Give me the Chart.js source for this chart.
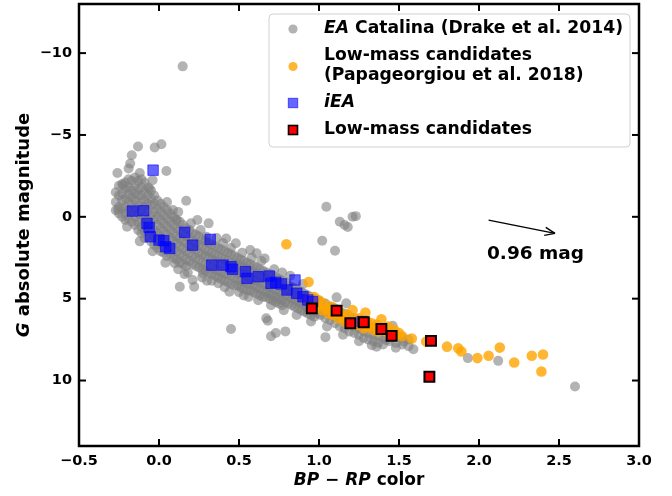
<!DOCTYPE html>
<html><head><meta charset="utf-8">
<script src="https://cdn.jsdelivr.net/npm/chart.js@4"></script>
<style>html,body{margin:0;padding:0;background:#fff}#wrap{width:672px;height:496px;position:relative}</style>
</head><body><div id="wrap"><canvas id="c"></canvas></div>
<script>
const xTicks = [-0.5, 0, 0.5, 1, 1.5, 2, 2.5, 3];
const xTickLabels = ['−0.5', '0.0', '0.5', '1.0', '1.5', '2.0', '2.5', '3.0'];
const yTicks = [-10, -5, 0, 5, 10];
const yTickLabels = ['−10', '−5', '0', '5', '10'];

// EA Catalina: isolated stars [BP-RP, M_G]
const catalinaSparse = [
  [0.148,-9.19],[-0.131,-4.30],[-0.027,-4.23],[0.015,-4.43],[-0.17,-3.76],[-0.18,-3.25],[-0.26,-2.68],[-0.12,-2.68],
  [0.046,-2.80],[-0.19,-2.95],[-0.04,-2.24],[-0.225,-1.93],[-0.06,-1.73],[0.17,-0.98],[-0.256,-0.45],[0.087,-0.41],
  [0.11,0.2],[0.31,0.4],[0.296,1.22],[0.42,1.32],[0.48,1.62],[0.57,2.03],[0.61,2.23],[0.66,2.54],
  [1.046,-0.61],[1.13,0.3],[1.16,0.5],[1.21,0.0],[1.23,-0.04],[1.18,0.62],[1.02,1.46],[1.10,2.07],
  [0.098,2.84],[0.13,4.27],[0.21,3.86],[0.22,4.27],[0.275,3.45],[0.37,4.06],[0.44,4.57],[0.45,6.85],[0.67,6.2],
  [0.68,6.35],[0.70,7.3],[0.73,7.1],[0.79,7.0],[1.04,7.35],[1.36,7.93],[1.59,8.09],[1.93,8.63],[2.12,8.8],[2.60,10.37],
  [1.11,4.92],[1.17,5.28],[1.46,6.66],[1.53,7.62],[1.42,7.52],
  [0.05,-0.9],[0.12,-0.3],[0.2,0.4],[0.24,0.2],[0.26,0.8],[0.36,1.3],[0.40,1.6],[0.45,1.9],[0.52,2.2],[0.58,2.5],
  [0.64,2.7],[0.72,3.2],[0.77,3.4],[0.82,3.6],[0.90,4.1],
  [-0.2,0.6],[-0.12,1.5],[-0.04,2.1],[0.04,2.8],[0.12,3.2],[0.16,3.5],[0.18,3.4],[0.27,3.7],[0.30,3.9],[0.33,3.9],
  [0.41,4.3],[0.50,4.6],[0.53,4.8],[0.56,4.9],[0.62,5.1],[0.70,5.4],[0.78,5.7],[0.86,6.0],[0.95,6.4],[1.05,6.7],
  [1.15,7.2],[1.25,7.6],[1.33,7.85],[1.48,8.0]
];
// EA Catalina: dense main-sequence band, grouped by colour column [BP-RP, [M_G ...]]
const catalinaBand = [
  [-0.27, [-1.5,-0.9,-0.4]],
  [-0.25, [-1.9,-1.3,-0.6,-0.2]],
  [-0.23, [-2.0,-1.4,-1.0,-0.5,0.0]],
  [-0.21, [-2.1,-1.7,-1.1,-0.6,-0.2,0.2]],
  [-0.19, [-2.3,-1.8,-1.4,-0.9,-0.4,0.1]],
  [-0.17, [-2.2,-1.6,-1.2,-0.8,-0.3,0.3]],
  [-0.15, [-2.4,-1.9,-1.4,-1.0,-0.5,0.0,0.5]],
  [-0.13, [-2.2,-1.7,-1.3,-0.7,-0.2,0.3,0.8]],
  [-0.11, [-2.3,-1.8,-1.3,-0.9,-0.4,0.1,0.6,1.0]],
  [-0.09, [-2.1,-1.5,-1.0,-0.6,0.0,0.5,0.9,1.3]],
  [-0.07, [-1.8,-1.3,-0.8,-0.3,0.2,0.7,1.2]],
  [-0.05, [-1.6,-1.1,-0.7,-0.1,0.4,0.9,1.5]],
  [-0.03, [-1.3,-0.8,-0.3,0.2,0.8,1.2,1.7]],
  [-0.01, [-1.0,-0.5,0.0,0.5,1.0,1.4,1.9]],
  [0.01, [-0.8,-0.3,0.2,0.7,1.2,1.7,2.1]],
  [0.03, [-0.6,-0.1,0.4,0.9,1.4,1.8,2.2]],
  [0.05, [-0.4,0.1,0.6,1.1,1.6,2.0,2.4]],
  [0.07, [-0.2,0.3,0.8,1.3,1.8,2.3]],
  [0.09, [0.0,0.5,1.0,1.5,2.0,2.5]],
  [0.11, [0.2,0.7,1.2,1.6,2.1,2.6]],
  [0.13, [0.3,0.8,1.3,1.8,2.3,2.8]],
  [0.15, [0.5,1.0,1.5,1.9,2.4,2.9]],
  [0.17, [0.7,1.2,1.6,2.1,2.6,3.0]],
  [0.19, [0.8,1.3,1.8,2.2,2.7]],
  [0.21, [1.0,1.5,1.9,2.4,2.9]],
  [0.23, [1.1,1.6,2.0,2.5,3.0]],
  [0.25, [1.2,1.7,2.2,2.6,3.1]],
  [0.27, [1.4,1.8,2.3,2.8,3.2]],
  [0.29, [1.5,2.0,2.4,2.9,3.3]],
  [0.31, [1.6,2.1,2.5,3.0,3.4]],
  [0.33, [1.7,2.2,2.6,3.1,3.5]],
  [0.35, [1.8,2.3,2.7,3.2,3.6]],
  [0.37, [1.9,2.4,2.8,3.3,3.7]],
  [0.39, [2.0,2.5,2.9,3.4,3.8]],
  [0.41, [2.1,2.6,3.0,3.5,3.9]],
  [0.43, [2.2,2.7,3.1,3.5,4.0]],
  [0.45, [2.3,2.8,3.2,3.6,4.1]],
  [0.47, [2.4,2.9,3.3,3.7,4.2]],
  [0.49, [2.5,2.9,3.4,3.8,4.2]],
  [0.51, [2.6,3.0,3.5,3.9,4.3]],
  [0.53, [2.7,3.1,3.5,4.0,4.4]],
  [0.55, [2.8,3.2,3.6,4.1,4.5]],
  [0.57, [2.9,3.3,3.7,4.1,4.5]],
  [0.59, [3.0,3.4,3.8,4.2,4.6]],
  [0.61, [3.1,3.5,3.9,4.3,4.7]],
  [0.63, [3.2,3.6,4.0,4.4,4.8]],
  [0.65, [3.3,3.7,4.1,4.5,4.9]],
  [0.67, [3.4,3.8,4.2,4.6,4.9]],
  [0.69, [3.5,3.9,4.3,4.7,5.0]],
  [0.71, [3.6,4.0,4.4,4.8,5.1]],
  [0.73, [3.7,4.1,4.5,4.9,5.2]],
  [0.75, [3.8,4.2,4.6,5.0,5.3]],
  [0.77, [3.9,4.3,4.7,5.1,5.4]],
  [0.79, [4.0,4.4,4.8,5.2]],
  [0.81, [4.2,4.5,4.9,5.3]],
  [0.83, [4.3,4.7,5.0,5.4]],
  [0.85, [4.4,4.8,5.1,5.5]],
  [0.87, [4.5,4.9,5.2,5.6]],
  [0.89, [4.6,5.0,5.3,5.7]],
  [0.91, [4.7,5.1,5.4,5.8]],
  [0.93, [4.8,5.2,5.6,5.9]],
  [0.95, [4.9,5.3,5.7,6.0]],
  [0.97, [5.0,5.4,5.8,6.1]],
  [0.99, [5.1,5.5,5.9]],
  [1.01, [5.2,5.6,6.0]],
  [1.04, [5.3,5.8,6.2]],
  [1.07, [5.5,5.9,6.3]],
  [1.10, [5.6,6.1,6.5]],
  [1.13, [5.8,6.2,6.7]],
  [1.16, [5.9,6.4,6.8]],
  [1.19, [6.1,6.5,7.0]],
  [1.22, [6.2,6.7,7.1]],
  [1.25, [6.4,6.8,7.2]],
  [1.28, [6.5,7.0,7.4]],
  [1.31, [6.7,7.1,7.5]],
  [1.34, [6.8,7.2,7.6]],
  [1.37, [6.9,7.3,7.7]],
  [1.40, [7.0,7.4,7.8]],
  [1.44, [7.2,7.6]],
  [1.48, [7.3,7.7]],
  [1.52, [7.4,7.8]],
  [1.56, [7.5,7.9]]
];

const papageorgiouPoints = [
  [0.796,1.68],[0.935,3.98],[0.93,5.0],[0.95,5.3],[0.97,4.9],[0.99,5.5],[1.00,5.1],[1.02,5.7],[1.03,5.3],[1.05,5.6],
  [1.06,5.9],[1.08,5.5],[1.09,6.0],[1.10,5.7],[1.12,6.2],[1.13,5.8],[1.15,6.1],[1.16,6.4],[1.18,6.0],[1.19,6.5],
  [1.21,5.7],[1.22,6.3],[1.23,6.6],[1.25,6.2],[1.26,6.5],[1.28,6.8],[1.29,5.85],[1.30,6.4],[1.31,6.7],[1.33,6.5],
  [1.34,6.9],[1.36,6.6],[1.37,7.0],[1.39,6.26],[1.40,6.8],[1.42,7.0],[1.43,6.7],[1.45,7.1],[1.47,6.9],[1.48,7.2],
  [1.50,7.1],[1.52,7.3],[1.58,7.44],[1.67,7.62],[1.80,7.93],[1.87,8.03],[1.89,8.23],[1.99,8.63],[2.06,8.49],
  [2.13,7.99],[2.22,8.9],[2.33,8.49],[2.40,8.41],[2.39,9.45]
];

const ieaPoints = [
  [-0.037,-2.85],[-0.166,-0.35],[-0.096,-0.37],[-0.075,0.4],[-0.062,0.65],[-0.054,1.22],[0.0,1.42],[0.03,1.46],
  [0.042,1.83],[0.067,1.93],[0.16,0.95],[0.21,1.73],[0.32,1.38],[0.33,2.95],[0.40,2.95],[0.45,3.05],[0.46,3.2],
  [0.54,3.35],[0.55,3.76],[0.62,3.66],[0.69,3.62],[0.70,4.06],[0.73,4.0],[0.765,4.1],[0.80,4.47],[0.85,3.86],
  [0.86,4.67],[0.90,4.88],[0.93,5.08],[0.96,5.18],[1.27,6.4]
];

const lowMassPoints = [
  [0.955,5.59],[1.11,5.73],[1.196,6.5],[1.28,6.44],[1.39,6.85],[1.454,7.27],[1.70,7.58],[1.69,9.77]
];

const arrowFrom = [2.06, 0.2];
const arrowTo = [2.475, 1.01];
const arrowText = '0.96 mag';
const arrowTextAt = [2.05, 2.3];

const legendEntries = [
  {lines: [[{t:'EA', i:true}, {t:' Catalina (Drake et al. 2014)'}]]},
  {lines: [[{t:'Low-mass candidates'}], [{t:'(Papageorgiou et al. 2018)'}]]},
  {lines: [[{t:'iEA', i:true}]]},
  {lines: [[{t:'Low-mass candidates'}]]}
];

const FAM = '"DejaVu Sans"';
Chart.defaults.font.family = FAM;

const toXY = arr => arr.map(p => ({x: p[0], y: p[1]}));
const catalinaData = toXY(catalinaSparse).concat(
  catalinaBand.flatMap(c => c[1].map(v => ({x: c[0], y: v})))
);

function richWidth(ctx, parts, size) {
  let w = 0;
  parts.forEach(p => { ctx.font = (p.i ? 'italic ' : '') + 'bold ' + size + 'px ' + FAM; p.w = ctx.measureText(p.t).width; w += p.w; });
  return w;
}
function drawRich(ctx, parts, x, y, size, align) {
  const total = richWidth(ctx, parts, size);
  let cx = align === 'center' ? x - total / 2 : x;
  ctx.textAlign = 'left';
  ctx.textBaseline = 'middle';
  parts.forEach(p => {
    ctx.font = (p.i ? 'italic ' : '') + 'bold ' + size + 'px ' + FAM;
    ctx.fillText(p.t, cx, y);
    cx += p.w;
  });
}

const decor = {
  id: 'decor',
  afterDraw(chart) {
    const {ctx, chartArea: a, scales: {x, y}} = chart;
    ctx.save();
    ctx.strokeStyle = '#000';
    ctx.fillStyle = '#000';
    const line = (x1, y1, x2, y2) => { ctx.beginPath(); ctx.moveTo(x1, y1); ctx.lineTo(x2, y2); ctx.stroke(); };
    ctx.lineWidth = 2;
    xTicks.forEach(v => { const p = x.getPixelForValue(v); line(p, a.bottom, p, a.bottom - 7); line(p, a.top, p, a.top + 7); });
    yTicks.forEach(v => { const p = y.getPixelForValue(v); line(a.left, p, a.left + 7, p); line(a.right, p, a.right - 7, p); });
    ctx.lineWidth = 2.5;
    ctx.strokeRect(a.left, a.top, a.right - a.left, a.bottom - a.top);

    // arrow annotation
    const sx = x.getPixelForValue(arrowFrom[0]), sy = y.getPixelForValue(arrowFrom[1]);
    const ex = x.getPixelForValue(arrowTo[0]), ey = y.getPixelForValue(arrowTo[1]);
    ctx.lineWidth = 1.4;
    line(sx, sy, ex, ey);
    const ang = Math.atan2(ey - sy, ex - sx);
    const hl = 11, ha = 0.38;
    line(ex, ey, ex - hl * Math.cos(ang - ha), ey - hl * Math.sin(ang - ha));
    line(ex, ey, ex - hl * Math.cos(ang + ha), ey - hl * Math.sin(ang + ha));
    drawRich(ctx, [{t: arrowText}], x.getPixelForValue(arrowTextAt[0]), y.getPixelForValue(arrowTextAt[1]), 18.5, 'left');

    // axis titles
    drawRich(ctx, [{t:'BP', i:true}, {t:' − '}, {t:'RP', i:true}, {t:' color'}], (a.left + a.right) / 2, 481, 17, 'center');
    ctx.save();
    ctx.translate(24, (a.top + a.bottom) / 2);
    ctx.rotate(-Math.PI / 2);
    drawRich(ctx, [{t:'G', i:true}, {t:' absolute magnitude'}], 0, 0, 18, 'center');
    ctx.restore();

    // legend
    const lx = 269, ly = 14, lw = 361, lh = 133, r = 4;
    ctx.beginPath();
    ctx.moveTo(lx + r, ly); ctx.lineTo(lx + lw - r, ly); ctx.quadraticCurveTo(lx + lw, ly, lx + lw, ly + r);
    ctx.lineTo(lx + lw, ly + lh - r); ctx.quadraticCurveTo(lx + lw, ly + lh, lx + lw - r, ly + lh);
    ctx.lineTo(lx + r, ly + lh); ctx.quadraticCurveTo(lx, ly + lh, lx, ly + lh - r);
    ctx.lineTo(lx, ly + r); ctx.quadraticCurveTo(lx, ly, lx + r, ly); ctx.closePath();
    ctx.fillStyle = 'rgba(255,255,255,0.8)'; ctx.fill();
    ctx.strokeStyle = '#d0d0d0'; ctx.lineWidth = 1; ctx.stroke();

    const mx = 293;
    const rows = [29, [56, 76], 103, 130];
    const ds = chart.data.datasets;
    ctx.fillStyle = ds[3].backgroundColor; ctx.beginPath(); ctx.arc(mx, 29, 4.6, 0, Math.PI * 2); ctx.fill();
    ctx.fillStyle = ds[2].backgroundColor; ctx.beginPath(); ctx.arc(mx, 66.5, 4.6, 0, Math.PI * 2); ctx.fill();
    ctx.fillStyle = ds[1].backgroundColor; ctx.fillRect(mx - 4.7, 103 - 4.7, 9.4, 9.4);
    ctx.strokeStyle = ds[1].borderColor; ctx.lineWidth = 1; ctx.strokeRect(mx - 4.7, 103 - 4.7, 9.4, 9.4);
    ctx.fillStyle = 'red'; ctx.fillRect(mx - 4.5, 130 - 4.5, 9, 9);
    ctx.strokeStyle = '#000'; ctx.lineWidth = 1.6; ctx.strokeRect(mx - 4.5, 130 - 4.5, 9, 9);
    ctx.fillStyle = '#000';
    legendEntries.forEach((e, k) => {
      const ys = Array.isArray(rows[k]) ? rows[k] : [rows[k]];
      e.lines.forEach((ln, j) => drawRich(ctx, ln, 324, ys[j], 17.2, 'left'));
    });
    ctx.restore();
  }
};

new Chart(document.getElementById('c'), {
  type: 'scatter',
  data: {
    datasets: [
      {label: 'Low-mass candidates', data: toXY(lowMassPoints), pointStyle: 'rect', pointRadius: 7, backgroundColor: 'red', borderColor: '#000', borderWidth: 2, order: 1},
      {label: 'iEA', data: toXY(ieaPoints), pointStyle: 'rect', pointRadius: 7.4, backgroundColor: 'rgba(0,0,255,0.6)', borderColor: 'rgba(0,0,255,0.6)', borderWidth: 1, order: 2},
      {label: 'Low-mass candidates (Papageorgiou et al. 2018)', data: toXY(papageorgiouPoints), pointStyle: 'circle', pointRadius: 5.3, backgroundColor: 'rgba(255,165,0,0.8)', borderWidth: 0, order: 3},
      {label: 'EA Catalina (Drake et al. 2014)', data: catalinaData, pointStyle: 'circle', pointRadius: 5, backgroundColor: 'rgba(128,128,128,0.6)', borderWidth: 0, order: 4}
    ]
  },
  options: {
    responsive: true,
    maintainAspectRatio: false,
    animation: false,
    events: [],
    layout: {autoPadding: false, padding: {left: 0, right: 33, top: 4, bottom: 0}},
    plugins: {legend: {display: false}, tooltip: {enabled: false}},
    scales: {
      x: {
        type: 'linear', min: -0.5, max: 3,
        afterBuildTicks: s => { s.ticks = xTicks.map(v => ({value: v})); },
        afterFit: s => { s.height = 50; s.paddingLeft = 0; s.paddingRight = 0; },
        ticks: {callback: v => xTickLabels[xTicks.indexOf(v)], color: '#000', font: {size: 14.5, weight: 'bold'}, padding: 7, maxRotation: 0, autoSkip: false},
        grid: {display: false, drawTicks: false},
        border: {display: false}
      },
      y: {
        type: 'linear', min: -13, max: 14, reverse: true,
        afterBuildTicks: s => { s.ticks = yTicks.map(v => ({value: v})); },
        afterFit: s => { s.width = 79; s.paddingTop = 0; s.paddingBottom = 0; },
        ticks: {callback: v => yTickLabels[yTicks.indexOf(v)], color: '#000', font: {size: 14.5, weight: 'bold'}, padding: 7, autoSkip: false},
        grid: {display: false, drawTicks: false},
        border: {display: false}
      }
    }
  },
  plugins: [decor]
});
</script>
</body></html>
